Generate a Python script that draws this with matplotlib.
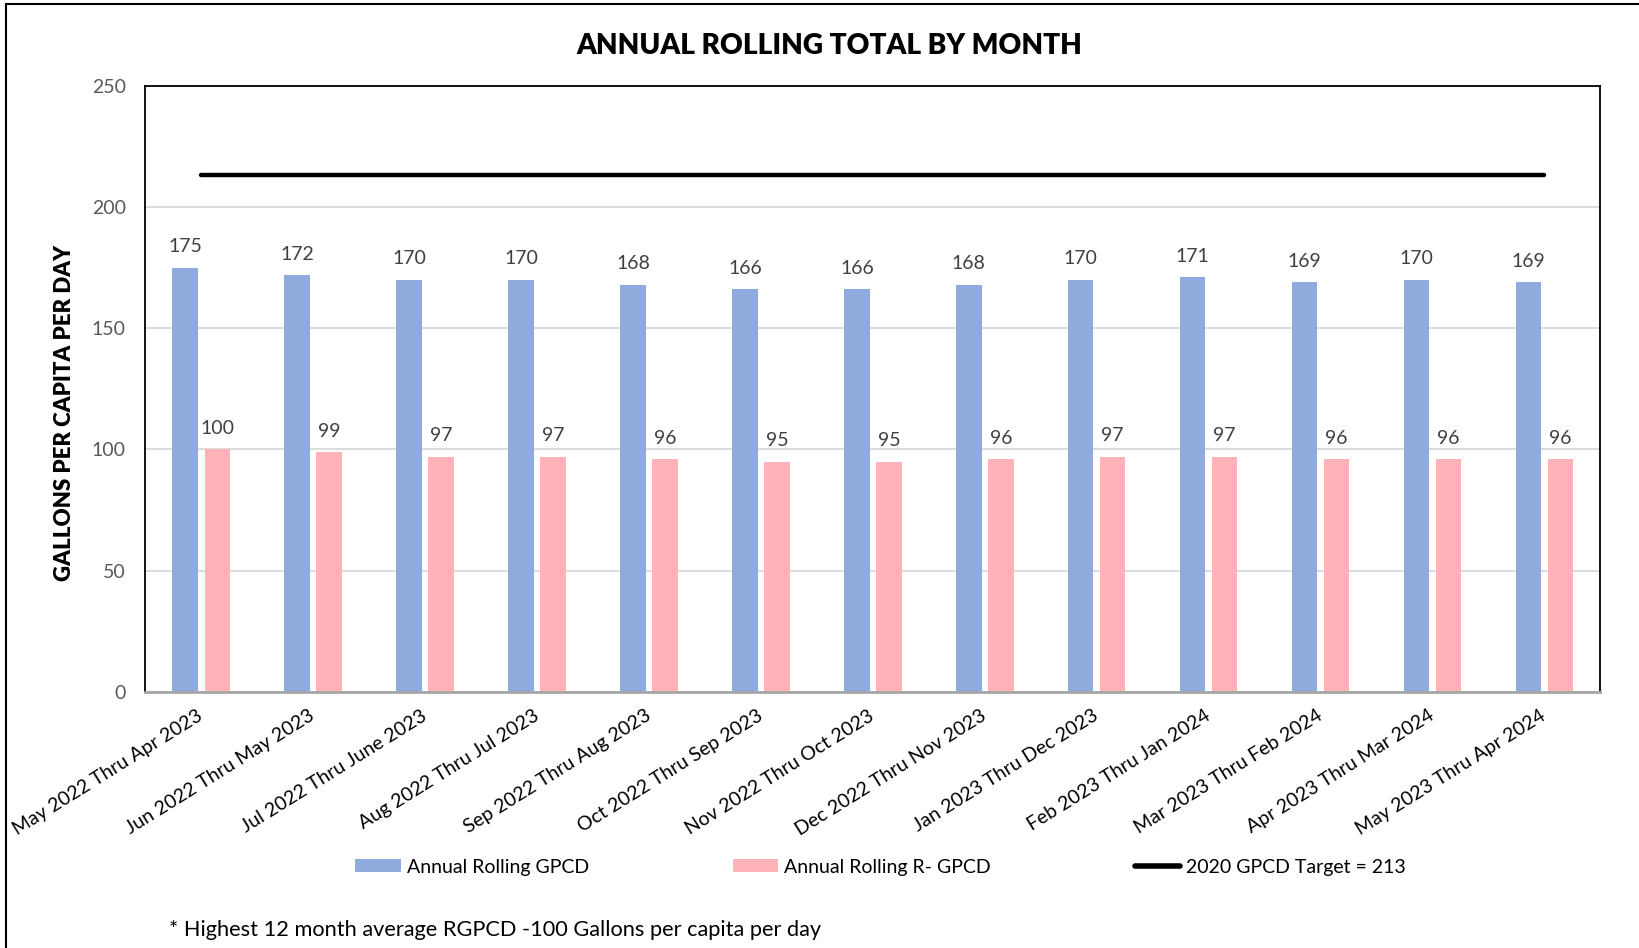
import matplotlib
matplotlib.use("Agg")
import matplotlib.pyplot as plt
from matplotlib.lines import Line2D
from matplotlib.patches import Patch, Rectangle
import numpy as np

categories = ["May 2022 Thru Apr 2023", "Jun 2022 Thru May 2023", "Jul 2022 Thru June 2023",
              "Aug 2022 Thru Jul 2023", "Sep 2022 Thru Aug 2023", "Oct 2022 Thru Sep 2023",
              "Nov 2022 Thru Oct 2023", "Dec 2022 Thru Nov 2023", "Jan 2023 Thru Dec 2023",
              "Feb 2023 Thru Jan 2024", "Mar 2023 Thru Feb 2024", "Apr 2023 Thru Mar 2024",
              "May 2023 Thru Apr 2024"]
gpcd = [175, 172, 170, 170, 168, 166, 166, 168, 170, 171, 169, 170, 169]
rgpcd = [100, 99, 97, 97, 96, 95, 95, 96, 97, 97, 96, 96, 96]
target = 213
yticks = [0, 50, 100, 150, 200, 250]

plt.rcParams['font.family'] = ['Lato', 'DejaVu Sans']

W, H = 1639, 948
fig = plt.figure(figsize=(W / 100, H / 100), dpi=100)

# outer frame (left and top edges visible)
fig.patches.append(Rectangle((6 / W, -0.05), 1.2, 1 - 4 / H + 0.05, transform=fig.transFigure,
                             fill=False, edgecolor='black', linewidth=1.5, clip_on=False))

ax = fig.add_axes([145.3 / W, 1 - 692 / H, (1600.4 - 145.3) / W, (692 - 85.7) / H])

x = np.arange(len(categories))
bw = 0.228
off = 0.143
blue = '#8FAADC'
pink = '#FFB3B8'
ax.bar(x - off, gpcd, bw, color=blue, zorder=2)
ax.bar(x + off, rgpcd, bw, color=pink, zorder=2)
ax.plot([x[0], x[-1]], [target, target], color='black', lw=3.2, solid_capstyle='round', zorder=3)

for xi, v in zip(x - off, gpcd):
    ax.annotate(str(v), (xi, v), xytext=(0, 11), textcoords='offset points',
                ha='center', va='baseline', fontsize=14, color='#404040')
for xi, v in zip(x + off, rgpcd):
    ax.annotate(str(v), (xi, v), xytext=(0, 11), textcoords='offset points',
                ha='center', va='baseline', fontsize=14, color='#404040')

ax.set_xlim(-0.5, len(categories) - 0.5)
ax.set_ylim(0, 250)
ax.set_yticks(yticks)
ax.set_yticklabels([str(t) for t in yticks], fontsize=14, color='#595959')
ax.yaxis.grid(True, color='#D9D9D9', lw=1.3, zorder=0)
ax.set_axisbelow(True)
ax.tick_params(axis='y', length=0, pad=14)
ax.tick_params(axis='x', length=0, pad=16)
ax.set_xticks(x)
ax.set_xticklabels(categories, rotation=32, ha='right', va='center', rotation_mode='anchor',
                   fontsize=14, color='black')
for side in ['top', 'left', 'right']:
    ax.spines[side].set_color('black')
    ax.spines[side].set_linewidth(1.3)
ax.spines['bottom'].set_color('#A6A6A6')
ax.spines['bottom'].set_linewidth(2)

fig.text(829 / W, 1 - 45.5 / H, "ANNUAL ROLLING TOTAL BY MONTH", ha='center', va='center',
         fontsize=20.2, fontweight='heavy', color='black')
fig.text(65 / W, 1 - 413 / H, "GALLONS PER CAPITA PER DAY", rotation=90, ha='center', va='center',
         fontsize=16, fontweight='heavy', color='black')

handles = [Patch(facecolor=blue, edgecolor='none'),
           Patch(facecolor=pink, edgecolor='none'),
           Line2D([0], [0], color='black', lw=4, solid_capstyle='round')]
labels = ["Annual Rolling GPCD", "Annual Rolling R- GPCD", "2020 GPCD Target = 213"]
fig.legend(handles, labels, loc='center left', bbox_to_anchor=(355 / W, 1 - 867 / H),
           ncol=3, frameon=False, fontsize=14, handlelength=2.35, handleheight=0.6,
           handletextpad=0.3, columnspacing=7.4, borderaxespad=0, borderpad=0)

fig.text(169 / W, 1 - 930 / H, "* Highest 12 month average RGPCD -100 Gallons per capita per day",
         ha='left', va='center', fontsize=15.7, color='black')

fig.savefig("out.png", dpi=100, facecolor='white')
